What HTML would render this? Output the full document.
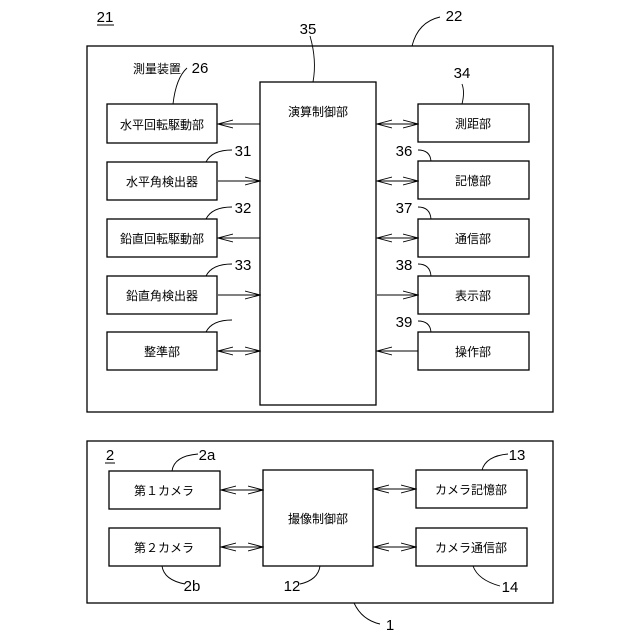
<!DOCTYPE html>
<html><head><meta charset="utf-8"><style>body{margin:0;background:#fff}svg{display:block}text{font-family:"Liberation Sans","Noto Sans CJK JP",sans-serif;fill:#000}</style></head><body>
<svg width="640" height="640" viewBox="0 0 640 640" xmlns="http://www.w3.org/2000/svg">
<defs>
<marker id="a" markerWidth="16" markerHeight="10" refX="15" refY="5" orient="auto-start-reverse" markerUnits="userSpaceOnUse">
<path d="M0,1 L15,5 L0,9" fill="none" stroke="#000" stroke-width="0.9"/></marker>
</defs>
<g fill="none" stroke="#000" stroke-width="1.3">
<rect x="87" y="46" width="466" height="366"/>
<rect x="260" y="82" width="116" height="323"/>
<rect x="107" y="104" width="110" height="39"/>
<rect x="107" y="162" width="110" height="38"/>
<rect x="107" y="219" width="110" height="38"/>
<rect x="107" y="276" width="110" height="38"/>
<rect x="107" y="332" width="110" height="38"/>
<rect x="418" y="104" width="111" height="38"/>
<rect x="418" y="161" width="111" height="38"/>
<rect x="418" y="219" width="111" height="38"/>
<rect x="418" y="276" width="111" height="38"/>
<rect x="418" y="332" width="111" height="38"/>
<rect x="87" y="441" width="466" height="162"/>
<rect x="263" y="470" width="110" height="96"/>
<rect x="109" y="471" width="111" height="38"/>
<rect x="109" y="528" width="111" height="38"/>
<rect x="416" y="470" width="111" height="38"/>
<rect x="416" y="528" width="111" height="38"/>
</g>
<g stroke="#000" stroke-width="0.9" fill="none">
<line x1="260" y1="124" x2="218" y2="124" marker-end="url(#a)"/>
<line x1="218" y1="181" x2="260" y2="181" marker-end="url(#a)"/>
<line x1="260" y1="238" x2="218" y2="238" marker-end="url(#a)"/>
<line x1="218" y1="295" x2="260" y2="295" marker-end="url(#a)"/>
<line x1="218" y1="351" x2="260" y2="351" marker-start="url(#a)" marker-end="url(#a)"/>
<line x1="377" y1="124" x2="418" y2="124" marker-start="url(#a)" marker-end="url(#a)"/>
<line x1="377" y1="181" x2="418" y2="181" marker-start="url(#a)" marker-end="url(#a)"/>
<line x1="377" y1="238" x2="418" y2="238" marker-start="url(#a)" marker-end="url(#a)"/>
<line x1="377" y1="295" x2="418" y2="295" marker-end="url(#a)"/>
<line x1="418" y1="351" x2="377" y2="351" marker-end="url(#a)"/>
<line x1="221" y1="490" x2="263" y2="490" marker-start="url(#a)" marker-end="url(#a)"/>
<line x1="221" y1="547" x2="263" y2="547" marker-start="url(#a)" marker-end="url(#a)"/>
<line x1="374" y1="489" x2="416" y2="489" marker-start="url(#a)" marker-end="url(#a)"/>
<line x1="374" y1="547" x2="416" y2="547" marker-start="url(#a)" marker-end="url(#a)"/>
<path d="M412,46 Q418,22 440,17"/>
<path d="M313,82 Q317,60 310,36"/>
<path d="M173,104 Q176,78 187,68"/>
<path d="M206,162 Q212,150 232,150"/>
<path d="M206,219 Q212,207 232,207"/>
<path d="M206,276 Q212,264 232,264"/>
<path d="M206,332 Q212,320 232,320"/>
<path d="M462,104 Q465,92 462,84"/>
<path d="M418,150 Q430,150 431,161"/>
<path d="M418,207 Q430,207 431,219"/>
<path d="M418,264 Q430,264 431,276"/>
<path d="M418,321 Q430,321 431,332"/>
<path d="M172,471 Q174,456 198,454"/>
<path d="M162,566 Q164,580 185,584"/>
<path d="M320,566 Q318,580 300,584"/>
<path d="M482,470 Q486,456 508,454"/>
<path d="M473,566 Q478,580 500,586"/>
<path d="M354,603 Q362,620 380,624"/>
</g>
<g font-size="12" text-anchor="middle">
<text x="162" y="129">水平回転駆動部</text>
<text x="162" y="186">水平角検出器</text>
<text x="162" y="243">鉛直回転駆動部</text>
<text x="162" y="300">鉛直角検出器</text>
<text x="162" y="356">整準部</text>
<text x="318" y="116">演算制御部</text>
<text x="473" y="128">測距部</text>
<text x="473" y="185">記憶部</text>
<text x="473" y="243">通信部</text>
<text x="473" y="300">表示部</text>
<text x="473" y="356">操作部</text>
<text x="164" y="495">第１カメラ</text>
<text x="164" y="552">第２カメラ</text>
<text x="318" y="523">撮像制御部</text>
<text x="471" y="494">カメラ記憶部</text>
<text x="471" y="552">カメラ通信部</text>
<text x="133" y="73" text-anchor="start">測量装置</text>
</g>
<g font-size="15" text-anchor="middle">
<text x="105" y="22">21</text>
<text x="454" y="21">22</text>
<text x="308" y="34">35</text>
<text x="200" y="73">26</text>
<text x="243" y="156">31</text>
<text x="243" y="213">32</text>
<text x="243" y="270">33</text>
<text x="462" y="78">34</text>
<text x="404" y="156">36</text>
<text x="404" y="213">37</text>
<text x="404" y="270">38</text>
<text x="404" y="327">39</text>
<text x="110" y="460">2</text>
<text x="207" y="460">2a</text>
<text x="192" y="591">2b</text>
<text x="292" y="591">12</text>
<text x="517" y="460">13</text>
<text x="510" y="592">14</text>
<text x="390" y="630">1</text>
</g>
<g stroke="#000" stroke-width="1"><line x1="97" y1="25" x2="114" y2="25"/><line x1="105" y1="463" x2="115" y2="463"/></g>
</svg>
</body></html>
